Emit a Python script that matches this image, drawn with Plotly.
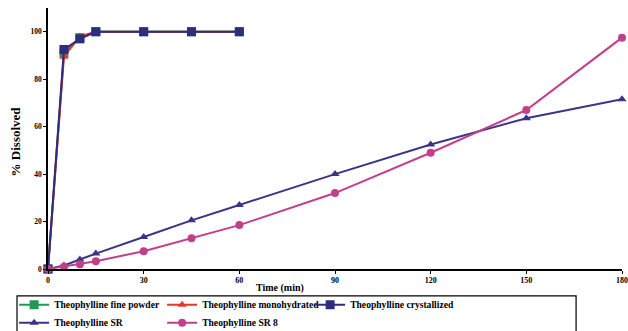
import plotly.graph_objects as go

time_fast = [0, 5, 10, 15, 30, 45, 60]
fine_powder = [0, 91, 97.5, 100, 100, 100, 100]
monohydrated = [0, 89.5, 98, 100, 100, 100, 100]
crystallized = [0, 92.5, 97, 100, 100, 100, 100]

time_sr = [0, 5, 10, 15, 30, 45, 60, 90, 120, 150, 180]
sr = [0, 1.5, 4, 6.5, 13.5, 20.5, 27, 40, 52.5, 63.5, 71.5]
sr8 = [0, 1, 2, 3.3, 7.5, 13, 18.5, 32, 49, 67, 97.5]

x_ticks = [0, 30, 60, 90, 120, 150, 180]
y_ticks = [0, 20, 40, 60, 80, 100]

FONT = "Liberation Serif"

series = [
    ("Theophylline fine powder", time_fast, fine_powder, "#1E9A55", "square", 9, "legend"),
    ("Theophylline monohydrated", time_fast, monohydrated, "#E8342C", "triangle-up", 8, "legend"),
    ("Theophylline crystallized", time_fast, crystallized, "#2C2D7E", "square", 9, "legend"),
    ("Theophylline SR", time_sr, sr, "#3A3487", "triangle-up", 8, "legend2"),
    ("Theophylline SR 8", time_sr, sr8, "#C23F8C", "circle", 8, "legend2"),
]

fig = go.Figure()
for name, xs, ys, col, sym, sz, leg in series:
    fig.add_trace(go.Scatter(
        x=xs, y=ys, name=name, mode="lines+markers",
        line=dict(color=col, width=2),
        marker=dict(color=col, symbol=sym, size=sz),
        cliponaxis=False, legend=leg,
    ))

leg_common = dict(
    orientation="h", xanchor="left", yanchor="top",
    entrywidth=103, entrywidthmode="pixels",
    font=dict(family=FONT, size=9.6, color="black", weight="bold"),
    bgcolor="rgba(0,0,0,0)", tracegroupgap=0, itemwidth=30,
)

fig.update_layout(
    width=628, height=331,
    margin=dict(l=48, r=6, t=8, b=62, autoexpand=False),
    paper_bgcolor="white", plot_bgcolor="white",
    font=dict(family=FONT, color="black"),
    showlegend=True,
    legend=dict(x=-0.059, y=-0.081, **leg_common),
    legend2=dict(x=-0.059, y=-0.150, **leg_common),
    xaxis=dict(
        range=[0, 180], tickvals=x_ticks, showgrid=False, zeroline=False,
        showline=True, linecolor="black", linewidth=1.5,
        ticks="outside", ticklen=3, tickcolor="black",
        tickfont=dict(family=FONT, size=8, color="black", weight="bold"),
    ),
    yaxis=dict(
        range=[0, 110], tickvals=y_ticks, showgrid=False, zeroline=False,
        showline=True, linecolor="black", linewidth=1.5,
        ticks="outside", ticklen=3, tickcolor="black",
        tickfont=dict(family=FONT, size=7.5, color="black", weight="bold"),
    ),
    annotations=[
        dict(text="Time (min)", xref="paper", yref="paper", x=0.404, y=-0.072,
             xanchor="center", yanchor="middle", showarrow=False,
             font=dict(family=FONT, size=10, color="black", weight="bold")),
        dict(text="% Dissolved", xref="paper", yref="paper", x=-0.057, y=0.49,
             xanchor="center", yanchor="middle", showarrow=False, textangle=-90,
             font=dict(family=FONT, size=13, color="black", weight="bold")),
    ],
    shapes=[
        dict(type="rect", xref="paper", yref="paper",
             x0=-0.054, x1=0.92, y0=-0.103, y1=-0.27,
             line=dict(color="black", width=1.2), fillcolor="rgba(0,0,0,0)"),
    ],
)

fig.write_html("out.html")
